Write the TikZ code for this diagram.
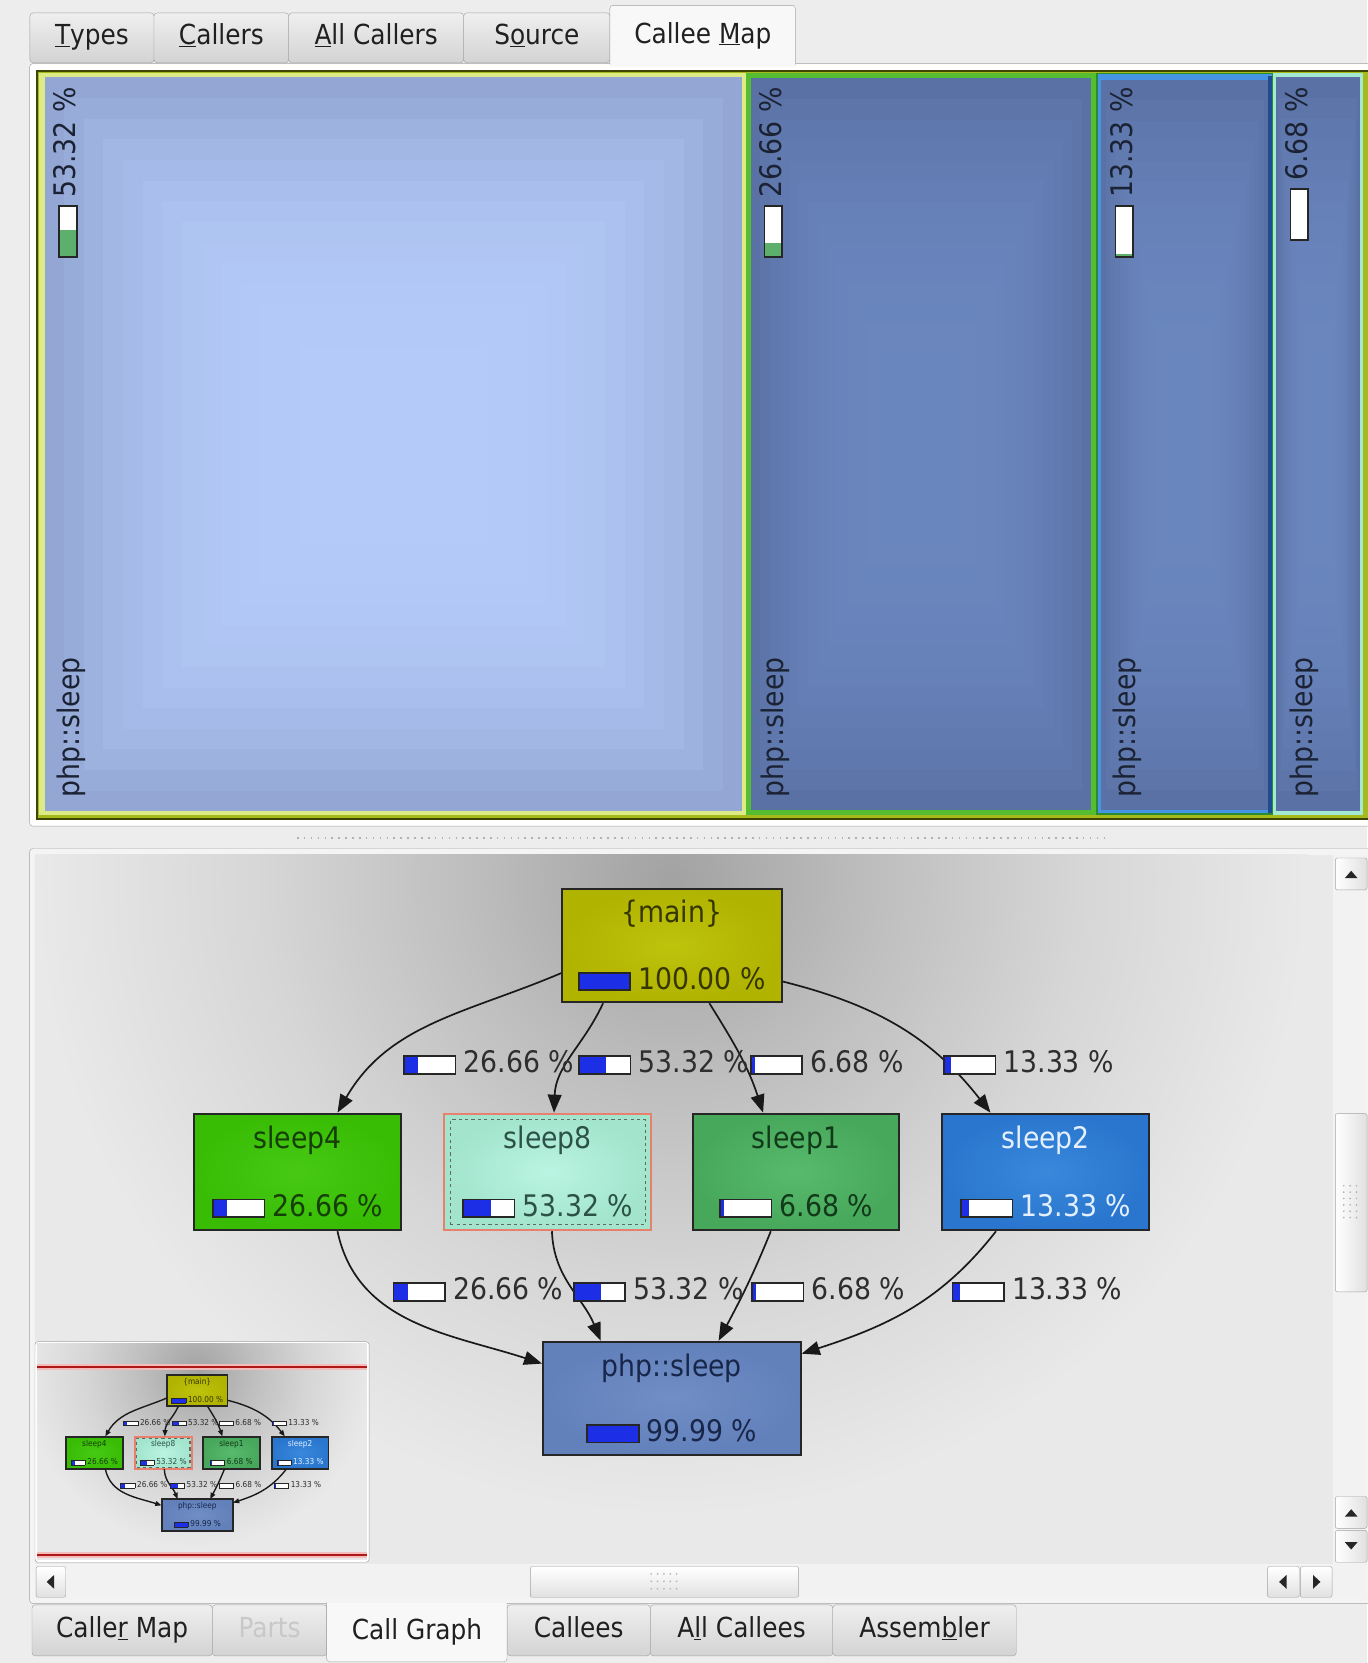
\documentclass[tikz,border=0pt]{standalone}
\usepackage{fontspec}
\setmainfont{DejaVu Sans Condensed}
\usetikzlibrary{arrows.meta}

% ---------- colours ----------
\definecolor{winbg}{HTML}{EDEDED}
\definecolor{panelbg}{HTML}{F4F4F4}
\definecolor{frameln}{HTML}{A2A2A2}
\definecolor{tabtop}{HTML}{EFEFEF}
\definecolor{tabbot}{HTML}{D3D3D3}
\definecolor{tabact}{HTML}{F8F8F8}
\definecolor{tabtxt}{HTML}{202020}
\definecolor{tabdim}{HTML}{C8C8C8}
\definecolor{barblue}{HTML}{1C2FE6}
\definecolor{bargreen}{HTML}{5DB06C}
% treemap
\definecolor{tmmain}{HTML}{A6BA1E}
\definecolor{tmmainln}{HTML}{3E4600}
\definecolor{tmselfr}{HTML}{DDEB86}
\definecolor{tmselA}{HTML}{93A6D4}
\definecolor{tmselB}{HTML}{B4CAF8}
\definecolor{tmA}{HTML}{5A71A5}
\definecolor{tmB}{HTML}{6A86BE}
\definecolor{tmtxt}{HTML}{1B2233}
\definecolor{tmfrgreen}{HTML}{54BE30}
\definecolor{tmfrdark}{HTML}{2A8C2C}
\definecolor{tmfrblue}{HTML}{4595E4}
\definecolor{tmfrnavy}{HTML}{1E4C90}
\definecolor{tmfrmint}{HTML}{A4EAD0}
% call graph
\definecolor{cmain}{HTML}{B0B300}
\definecolor{cmainhi}{HTML}{BEC30C}
\definecolor{cmaintx}{HTML}{363600}
\definecolor{csfour}{HTML}{38BC04}
\definecolor{csfourhi}{HTML}{48CA14}
\definecolor{csfourtx}{HTML}{163E08}
\definecolor{cseight}{HTML}{A2E4CC}
\definecolor{cseighthi}{HTML}{BAF4E2}
\definecolor{cseighttx}{HTML}{2C5248}
\definecolor{cseightln}{HTML}{E9806E}
\definecolor{csone}{HTML}{47A85B}
\definecolor{csonehi}{HTML}{58BA6C}
\definecolor{csonetx}{HTML}{123A1A}
\definecolor{cstwo}{HTML}{2A76CE}
\definecolor{cstwohi}{HTML}{3888DC}
\definecolor{cstwotx}{HTML}{E4F0FF}
\definecolor{cphp}{HTML}{6280BA}
\definecolor{cphphi}{HTML}{718EC6}
\definecolor{cphptx}{HTML}{18264A}
\definecolor{lbltx}{HTML}{2E2E2E}
\definecolor{glowc}{HTML}{A2A2A2}
\definecolor{glowm}{HTML}{BEBEBE}
\definecolor{glowd}{HTML}{D6D6D6}
\definecolor{glowo}{HTML}{E9E9E9}
\definecolor{redcore}{HTML}{B01818}
\definecolor{redhalo}{HTML}{F2BCBC}

\pgfdeclareradialshading{cgglow}{\pgfpoint{0bp}{0bp}}{%
  color(0bp)=(glowc); color(8bp)=(glowm); color(16bp)=(glowd);
  color(25bp)=(glowo); color(50bp)=(glowo)}

% ---------- fonts ----------
\newcommand\tbfont{\fontsize{26}{30}\selectfont}
\newcommand\grfont{\fontsize{28}{34}\selectfont}

% ---------- percentage bar ----------
\newlength\pbarw \setlength\pbarw{47pt}
\newlength\pbarh \setlength\pbarh{15pt}
\newcommand\pbar[2][barblue]{{\setlength\fboxsep{0pt}\setlength\fboxrule{1.5pt}%
  \fcolorbox{black!85}{white}{\textcolor{#1}{\rule{#2\pbarw}{\pbarh}}%
  \hspace*{\dimexpr\pbarw-#2\pbarw\relax}}}}

% ---------- cushion fill for treemap cells ----------
\newcommand\tmcushion[6]{%
  \foreach \k in {0,...,16}{%
    \pgfmathsetmacro\cux{((#3)-(#1))*0.45*\k/16}%
    \pgfmathsetmacro\cuy{((#4)-(#2))*0.45*\k/16}%
    \pgfmathtruncatemacro\cup{100*(1-(1-\k/16)^3)}%
    \fill[#6!\cup!#5] ({(#1)+(\cux)},{(#2)+(\cuy)}) rectangle ({(#3)-(\cux)},{(#4)-(\cuy)});
  }}

% ---------- call graph (coordinates relative to {main}) ----------
\def\cgs{1}
\def\cglw{1.6pt}
\newcommand\cgraph{%
  \node[cgbox, mainbox, inner color=cmainhi, outer color=cmain, text=cmaintx] (main) at (0,0)
    {\{main\}\\[29pt]\pbar{1}\hspace{7pt}100.00~\%};
  \node[cgbox, sleepbox, inner color=csfourhi, outer color=csfour, text=csfourtx] (sleep4) at (-353,-213.5)
    {sleep4\\[30pt]\pbar{0.2666}\hspace{7pt}26.66~\%};
  \node[cgbox, sleepbox, draw=cseightln, inner color=cseighthi, outer color=cseight, text=cseighttx] (sleep8) at (-117,-213.5)
    {sleep8\\[30pt]\pbar{0.5332}\hspace{7pt}53.32~\%};
  \node[draw=black!60, dashed, line width=1pt, minimum width=184pt, minimum height=99pt, inner sep=0pt] (sleep8in) at (sleep8.center) {};
  \node[cgbox, sleepbox, inner color=csonehi, outer color=csone, text=csonetx] (sleep1) at (117,-213.5)
    {sleep1\\[30pt]\pbar{0.0668}\hspace{7pt}6.68~\%};
  \node[cgbox, sleepbox, inner color=cstwohi, outer color=cstwo, text=cstwotx] (sleep2) at (352.5,-213.5)
    {sleep2\\[30pt]\pbar{0.1333}\hspace{7pt}13.33~\%};
  \node[cgbox, phpbox, inner color=cphphi, outer color=cphp, text=cphptx] (php) at (0,-427)
    {php::sleep\\[28pt]\pbar{0.9999}\hspace{7pt}99.99~\%};
  % calls from {main}
  \draw[cgedge] (main.194) to[out=203,in=60] (sleep4.56);
  \draw[cgedge] (main.220) to[out=245,in=88] (sleep8.84);
  \draw[cgedge] (main.303) to[out=-58,in=108] (sleep1.119);
  \draw[cgedge] (main.-18) to[out=-14,in=128] (sleep2.133);
  % calls into php::sleep
  \draw[cgedge] (sleep4.-56) to[out=-78,in=162] (php.165);
  \draw[cgedge] (sleep8.-86) to[out=-88,in=112] (php.141);
  \draw[cgedge] (sleep1.-113) to[out=-112,in=62] (php.51);
  \draw[cgedge] (sleep2.230) to[out=-128,in=18] (php.19);
  % edge costs
  \node[cglbl] (l-m-s4) at (-253.5,-110.5) {\pbar{0.2666}\hspace{7pt}26.66~\%};
  \node[cglbl] (l-m-s8) at (-88.5,-110.5) {\pbar{0.5332}\hspace{7pt}53.32~\%};
  \node[cglbl] (l-m-s1) at (73.5,-110.5) {\pbar{0.0668}\hspace{7pt}6.68~\%};
  \node[cglbl] (l-m-s2) at (255.5,-110.5) {\pbar{0.1333}\hspace{7pt}13.33~\%};
  \node[cglbl] (l-s4-p) at (-263.5,-324.5) {\pbar{0.2666}\hspace{7pt}26.66~\%};
  \node[cglbl] (l-s8-p) at (-93.5,-324.5) {\pbar{0.5332}\hspace{7pt}53.32~\%};
  \node[cglbl] (l-s1-p) at (74.5,-324.5) {\pbar{0.0668}\hspace{7pt}6.68~\%};
  \node[cglbl] (l-s2-p) at (263.5,-324.5) {\pbar{0.1333}\hspace{7pt}13.33~\%};
}

\tikzset{
  tabnode/.style={draw=frameln, top color=tabtop, bottom color=tabbot, rounded corners=3pt,
    anchor=north west, inner sep=0pt, text height=19pt, text depth=6pt, font=\tbfont, text=tabtxt},
  cgbox/.style={draw=black!85, line width=1.8pt, rectangle, align=center, inner sep=0pt, font=\grfont},
  mainbox/.style={minimum width=207pt, minimum height=107pt},
  sleepbox/.style={minimum width=195pt, minimum height=110pt},
  phpbox/.style={minimum width=243pt, minimum height=107pt},
  cgedge/.style={draw=black!90, line width=\cglw, -{Triangle[length=17pt,width=13pt,scale=\cgs]}},
  cglbl/.style={anchor=west, inner sep=0pt, font=\grfont, text=lbltx},
  tmpct/.style={rotate=90, anchor=east, inner sep=0pt, font=\grfont, text=tmtxt},
  tmname/.style={rotate=90, anchor=west, inner sep=0pt, font=\grfont, text=tmtxt},
  sbbtn/.style={draw=frameln, left color=white, right color=black!12, rounded corners=2pt},
  sbthumb/.style={draw=frameln, top color=white, bottom color=black!12, rounded corners=2pt},
  sbtri/.style={fill=black!85},
}

\begin{document}
\begin{tikzpicture}[x=1pt,y=1pt]
\useasboundingbox (0,0) rectangle (1289,-1568);
\fill[winbg] (0,0) rectangle (1289,-1568);

% ================= upper tab bar =================
\node[tabnode, minimum width=117pt, minimum height=47pt] (tabTypes) at (28,-12) {\underline{T}ypes};
\node[tabnode, minimum width=127pt, minimum height=47pt] (tabCallers) at (145,-12) {\underline{C}allers};
\node[tabnode, minimum width=165pt, minimum height=47pt] (tabAllCallers) at (272,-12) {\underline{A}ll Callers};
\node[tabnode, minimum width=138pt, minimum height=47pt] (tabSource) at (437,-12) {S\underline{o}urce};

% upper panel
\draw[frameln, fill=white, rounded corners=3pt] (28,-60) rectangle (1300,-779);

% active tab joined to the panel
\node[fill=tabact, anchor=north west, minimum width=175pt, minimum height=58pt, inner sep=0pt,
  text height=19pt, text depth=6pt, font=\tbfont, text=tabtxt, yshift=-1pt] (tabCalleeMap) at (575,-4) {Callee \underline{M}ap};
\draw[frameln, rounded corners=3pt] (575,-61) |- (750,-5) -- (750,-61);

% ================= callee map (treemap) =================
\draw[tmmainln, line width=1.5pt, fill=tmmain] (35,-67) rectangle (1295,-772);
% cell 1: 53.32 %
\fill[tmselfr] (37,-69) rectangle (703,-768);
\tmcushion{42}{-73}{700}{-765}{tmselA}{tmselB}
% cell 2: 26.66 %
\fill[tmfrgreen] (703,-69) rectangle (1033,-768);
\tmcushion{708}{-74}{1029}{-764}{tmA}{tmB}
% cell 3: 13.33 %
\fill[tmfrdark] (1033,-69) rectangle (1200,-768);
\fill[tmfrblue] (1035,-70) rectangle (1199,-767);
\fill[tmfrnavy] (1196,-72) rectangle (1199,-767);
\tmcushion{1038}{-75}{1196}{-764}{tmA}{tmB}
% cell 4: 6.68 %
\fill[tmfrmint] (1200,-69) rectangle (1285,-768);
\tmcushion{1203}{-73}{1282}{-765}{tmA}{tmB}

\node[tmpct] (tmp1) at (62,-82) {\pbar[bargreen]{0.5332}\hspace{7pt}53.32~\%};
\node[tmpct] (tmp2) at (727,-82) {\pbar[bargreen]{0.2666}\hspace{7pt}26.66~\%};
\node[tmpct] (tmp3) at (1058,-82) {\pbar[bargreen]{0.04}\hspace{7pt}13.33~\%};
\node[tmpct] (tmp4) at (1223,-82) {\pbar[bargreen]{0}\hspace{7pt}6.68~\%};
\node[tmname] (tmn1) at (67,-752) {php::sleep};
\node[tmname] (tmn2) at (731,-752) {php::sleep};
\node[tmname] (tmn3) at (1063,-752) {php::sleep};
\node[tmname] (tmn4) at (1230,-752) {php::sleep};

% splitter grip
\draw[black!30, line width=1.5pt, dash pattern=on 1.5pt off 5pt] (280,-790) -- (1045,-790);

% ================= lower panel: call graph =================
\draw[frameln, fill=panelbg, rounded corners=3pt] (28,-800) rectangle (1300,-1512);
\begin{scope}
  \clip (33,-806) rectangle (1257,-1475);
  \fill[glowo] (33,-806) rectangle (1257,-1475);
  \path[shading=cgglow] (33,-230) rectangle (1233,-1430);
\end{scope}

\begin{scope}[shift={(633.5,-891.5)}]
  \cgraph
\end{scope}

% ---------- bird's-eye panner ----------
\draw[frameln, fill=white, rounded corners=3pt] (33,-1265) rectangle (348,-1473);
\begin{scope}
  \clip (35,-1267) rectangle (346,-1471);
  \fill[glowo] (35,-1267) rectangle (346,-1471);
  \path[shading=cgglow] (21,-1129) rectangle (351,-1459);
\end{scope}
\begin{scope}[shift={(186,-1311)}, scale=0.275, transform shape, name prefix=mini-]
  \def\cgs{0.35}\def\cglw{1.3pt}
  \cgraph
\end{scope}
\foreach \yy in {-1289,-1466}{
  \draw[redhalo, line width=6pt] (35,\yy) -- (346,\yy);
  \draw[redcore, line width=2.4pt] (35,\yy) -- (346,\yy);
}

% ---------- scrollbars ----------
\fill[black!5] (1257,-806) rectangle (1289,-1508);
\draw[sbbtn] (1259,-809) rectangle (1289,-839);
\fill[sbtri] (1268,-828) -- (1280,-828) -- (1274,-821) -- cycle;
\draw[sbbtn] (1259,-1050) rectangle (1289,-1218);
\foreach \gx in {1267,1273,1279}{\foreach \gy in {-1118,-1124,-1130,-1136,-1142,-1148}{
  \fill[black!30] (\gx,\gy) circle (0.9pt);}}
\draw[sbbtn] (1259,-1411) rectangle (1289,-1441);
\fill[sbtri] (1268,-1430) -- (1280,-1430) -- (1274,-1423) -- cycle;
\draw[sbbtn] (1259,-1443) rectangle (1289,-1473);
\fill[sbtri] (1268,-1454) -- (1280,-1454) -- (1274,-1461) -- cycle;

\fill[black!5] (33,-1476) rectangle (1257,-1508);
\draw[sbthumb] (34,-1477) rectangle (62,-1506);
\fill[sbtri] (51,-1485) -- (51,-1498) -- (44,-1491.5) -- cycle;
\draw[sbthumb] (500,-1477) rectangle (753,-1506);
\foreach \gx in {614,620,626,632,638}{\foreach \gy in {-1484,-1491,-1498}{
  \fill[black!30] (\gx,\gy) circle (0.9pt);}}
\draw[sbthumb] (1195,-1477) rectangle (1225,-1506);
\fill[sbtri] (1213,-1485) -- (1213,-1498) -- (1206,-1491.5) -- cycle;
\draw[sbthumb] (1226,-1477) rectangle (1256,-1506);
\fill[sbtri] (1238,-1485) -- (1238,-1498) -- (1245,-1491.5) -- cycle;

% ================= lower tab bar =================
\node[tabnode, minimum width=170pt, minimum height=48pt] (tabCallerMap) at (30,-1513) {Calle\underline{r} Map};
\node[tabnode, minimum width=108pt, minimum height=48pt, text=tabdim] (tabParts) at (200,-1513) {Parts};
\node[tabnode, minimum width=135pt, minimum height=48pt] (tabCallees) at (478,-1513) {Callees};
\node[tabnode, minimum width=172pt, minimum height=48pt] (tabAllCallees) at (613,-1513) {A\underline{l}l Callees};
\node[tabnode, minimum width=173pt, minimum height=48pt] (tabAssembler) at (785,-1513) {Assem\underline{b}ler};
\node[fill=tabact, anchor=north west, minimum width=170pt, minimum height=56pt, inner sep=0pt,
  text height=19pt, text depth=6pt, font=\tbfont, text=tabtxt] (tabCallGraph) at (308,-1511) {Call Graph};
\draw[frameln, rounded corners=3pt] (308,-1511) |- (478,-1567) -- (478,-1511);
\end{tikzpicture}
\end{document}
